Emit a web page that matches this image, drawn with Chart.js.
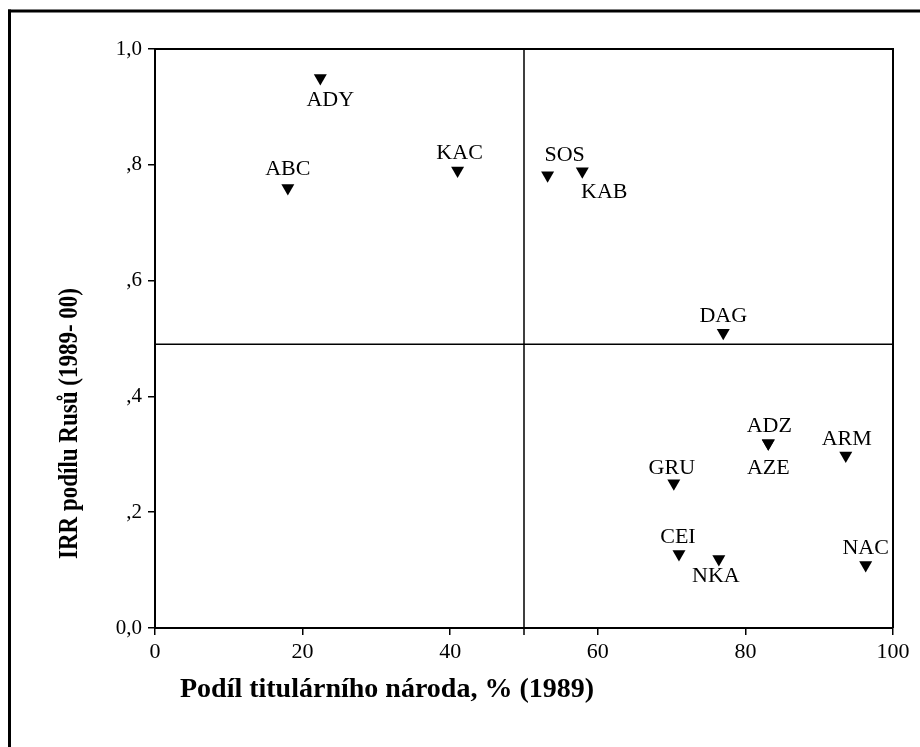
<!DOCTYPE html>
<html><head><meta charset="utf-8">
<script src="https://cdn.jsdelivr.net/npm/chart.js@4.4.1/dist/chart.umd.min.js"></script>
<style>html,body{margin:0;padding:0;background:#fff;}#wrap{width:920px;height:747px;position:relative;}</style>
</head><body><div id="wrap"><canvas id="c" width="920" height="747"></canvas></div>
<script>
// ---- data ----
const regionCodes = ['ADY','ABC','KAC','SOS','KAB','DAG','ADZ','AZE','ARM','GRU','CEI','NKA','NAC'];
const titularShare = [22.4, 18.0, 41.0, 53.2, 57.9, 77.0, 83.1, 83.1, 93.6, 70.3, 71.0, 76.4, 96.3];
const irrRussianShare = [0.95, 0.76, 0.79, 0.782, 0.789, 0.51, 0.319, 0.319, 0.298, 0.25, 0.128, 0.119, 0.109];
const xTickValues = [0, 20, 40, 60, 80, 100];
const yTickValues = [0, 0.2, 0.4, 0.6, 0.8, 1.0];
const yTickLabels = ['0,0', ',2', ',4', ',6', ',8', '1,0'];
const referenceX = 50;
const referenceY = 0.49;
const xTitle = 'Podíl titulárního národa, % (1989)';
const yTitle = 'IRR podílu Rusů (1989- 00)';

// ---- label placement (layout, px offsets from marker) ----
const labelOffsets = {
  ADY:[10,21], ABC:[0,-20], KAC:[2,-19], SOS:[17,-22], KAB:[22,20], DAG:[0,-18],
  ADZ:[1,-19], AZE:[0,23], ARM:[1,-18], GRU:[-2,-17], CEI:[-1,-18], NKA:[-3,16], NAC:[0,-18]
};

const points = titularShare.map((x, i) => ({x: x, y: irrRussianShare[i]}));
const SERIF = '"Liberation Serif", "Times New Roman", serif';

const decor = {
  id: 'decor',
  beforeDraw(chart) {
    const ctx = chart.ctx;
    ctx.save();
    ctx.fillStyle = '#fff';
    ctx.fillRect(0, 0, chart.width, chart.height);
    ctx.fillStyle = '#000';
    ctx.fillRect(8, 9.5, chart.width - 8, 3);   // top frame
    ctx.fillRect(8, 9.5, 3, chart.height);      // left frame
    ctx.restore();
  },
  beforeDatasetsDraw(chart) {
    const ctx = chart.ctx, a = chart.chartArea;
    const xs = chart.scales.x, ys = chart.scales.y;
    ctx.save();
    ctx.strokeStyle = '#000';
    ctx.lineWidth = 2;
    ctx.beginPath();
    ctx.moveTo(a.left, a.top); ctx.lineTo(a.right, a.top); ctx.lineTo(a.right, a.bottom);
    ctx.stroke();
    ctx.lineWidth = 1.5;
    const px = xs.getPixelForValue(referenceX);
    const py = ys.getPixelForValue(referenceY);
    ctx.beginPath();
    ctx.moveTo(px, a.top); ctx.lineTo(px, a.bottom + 7);
    ctx.moveTo(a.left, py); ctx.lineTo(a.right, py);
    ctx.stroke();
    ctx.restore();
  },
  afterDatasetsDraw(chart) {
    const ctx = chart.ctx;
    const meta = chart.getDatasetMeta(0);
    ctx.save();
    ctx.fillStyle = '#000';
    ctx.font = '22px ' + SERIF;
    ctx.textAlign = 'center';
    ctx.textBaseline = 'alphabetic';
    meta.data.forEach((el, i) => {
      const code = regionCodes[i];
      const off = labelOffsets[code] || [0, -18];
      ctx.fillText(code, el.x + off[0], el.y + off[1] + 7.3);
    });
    ctx.restore();
  },
  afterDraw(chart) {
    const ctx = chart.ctx;
    ctx.save();
    ctx.fillStyle = '#000';
    ctx.font = 'bold 28px ' + SERIF;
    ctx.textAlign = 'center';
    ctx.textBaseline = 'alphabetic';
    ctx.fillText(xTitle, 387, 697);
    ctx.restore();

    ctx.save();
    ctx.fillStyle = '#000';
    ctx.font = 'bold 23px ' + SERIF;
    ctx.textAlign = 'center';
    ctx.textBaseline = 'alphabetic';
    ctx.translate(77, 423.5);
    ctx.scale(1.19, 1);
    ctx.rotate(-Math.PI / 2);
    ctx.fillText(yTitle, 0, 0);
    ctx.restore();
  }
};

new Chart(document.getElementById('c'), {
  type: 'scatter',
  data: {
    datasets: [{
      label: 'IRR',
      data: points,
      pointStyle: 'triangle',
      rotation: 180,
      radius: 7.5,
      hoverRadius: 7.5,
      backgroundColor: '#000',
      borderColor: '#000',
      borderWidth: 0
    }]
  },
  options: {
    responsive: false,
    animation: false,
    devicePixelRatio: 1,
    layout: {padding: {top: 49, right: 27, left: 0, bottom: 0}},
    plugins: {legend: {display: false}, tooltip: {enabled: false}},
    scales: {
      x: {
        type: 'linear', min: 0, max: 100,
        afterBuildTicks: s => { s.ticks = xTickValues.map(v => ({value: v})); },
        afterFit: s => { s.height = 119; },
        ticks: {color: '#000', font: {family: SERIF, size: 22}, padding: 4, maxRotation: 0},
        grid: {display: true, drawOnChartArea: false, drawTicks: true, tickLength: 7, color: '#000', lineWidth: 1.5},
        border: {display: true, color: '#000', width: 2}
      },
      y: {
        type: 'linear', min: 0, max: 1,
        afterBuildTicks: s => { s.ticks = yTickValues.map(v => ({value: v})); },
        afterFit: s => { s.width = 155; },
        ticks: {color: '#000', font: {family: SERIF, size: 21}, padding: 6,
                callback: (v) => { const i = yTickValues.findIndex(t => Math.abs(t - v) < 1e-6); return i >= 0 ? yTickLabels[i] : ''; }},
        grid: {display: true, drawOnChartArea: false, drawTicks: true, tickLength: 7, color: '#000', lineWidth: 1.5},
        border: {display: true, color: '#000', width: 2}
      }
    }
  },
  plugins: [decor]
});
</script></body></html>
